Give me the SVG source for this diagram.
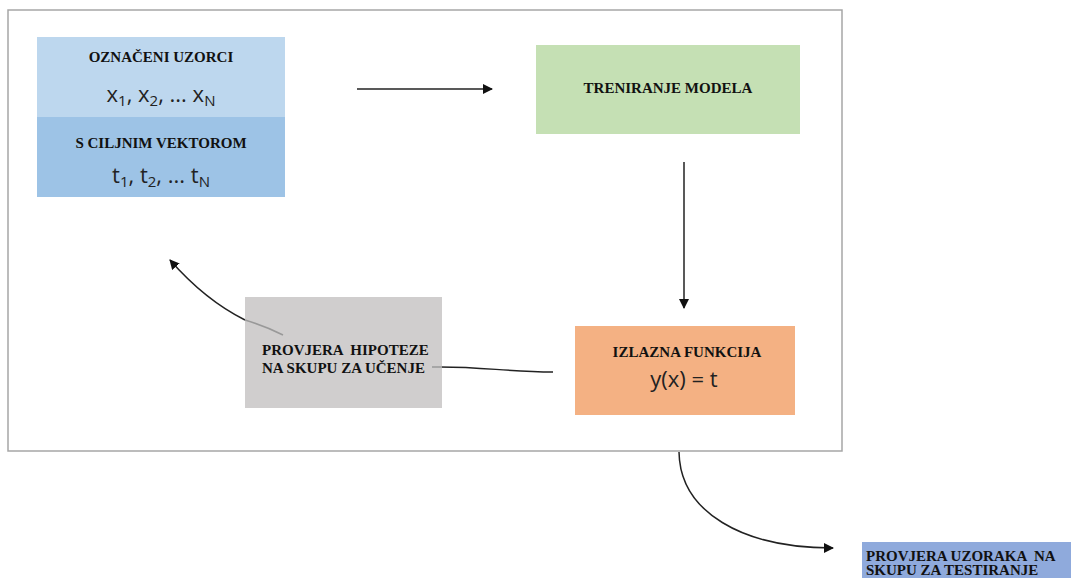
<svg xmlns="http://www.w3.org/2000/svg" width="1071" height="578" viewBox="0 0 1071 578">
<defs>
<marker id="ah" viewBox="0 0 10 10" refX="9" refY="5" markerWidth="10" markerHeight="10" markerUnits="userSpaceOnUse" orient="auto">
<path d="M0,0 L10,5 L0,10 z" fill="#111"/>
</marker>
</defs>
<style>
.hd{font-family:"Liberation Serif","Times New Roman",serif;font-weight:bold;font-size:15px;fill:#111;}
.mt{font-family:"Open Sans","Noto Sans",sans-serif;font-size:22px;fill:#222;}
.sub{font-size:15px;}
.cn{fill:none;stroke:#222;stroke-width:1.5;}
</style>
<rect width="1071" height="578" fill="#fff"/>
<g id="frame"><rect x="8" y="10" width="834" height="441" fill="#fff" stroke="#a6a6a6" stroke-width="1.5"/></g>
<g id="connectors">
<line class="cn" x1="357" y1="89" x2="492" y2="89" marker-end="url(#ah)"/>
<line class="cn" x1="684" y1="162" x2="684" y2="308" marker-end="url(#ah)"/>
<path class="cn" d="M553,372 C505,372 480,366 432,367"/>
<path class="cn" d="M245,320 Q205,300 170,260" marker-end="url(#ah)"/>
<path class="cn" d="M679,452 C680,512 742,548 833,548" marker-end="url(#ah)"/>
</g>
<g id="node-samples">
<rect x="37" y="37" width="248" height="80" fill="#bdd7ee"/>
<rect x="37" y="117" width="248" height="80" fill="#9dc3e6"/>
<text class="hd" x="161" y="62" text-anchor="middle">OZNAČENI UZORCI</text>
<text class="mt" x="161" y="102" text-anchor="middle">x<tspan class="sub" dy="4">1</tspan><tspan dy="-4">, x</tspan><tspan class="sub" dy="4">2</tspan><tspan dy="-4">, ... x</tspan><tspan class="sub" dy="4">N</tspan></text>
<text class="hd" x="161" y="148" text-anchor="middle">S CILJNIM VEKTOROM</text>
<text class="mt" x="161" y="183" text-anchor="middle">t<tspan class="sub" dy="4">1</tspan><tspan dy="-4">, t</tspan><tspan class="sub" dy="4">2</tspan><tspan dy="-4">, ... t</tspan><tspan class="sub" dy="4">N</tspan></text>
</g>
<g id="node-train">
<rect x="536" y="45" width="264" height="89" fill="#c5e0b4"/>
<text class="hd" x="668" y="93" text-anchor="middle">TRENIRANJE MODELA</text>
</g>
<g id="node-output">
<rect x="575" y="326" width="220" height="89" fill="#f4b183"/>
<text class="hd" x="687" y="357" text-anchor="middle">IZLAZNA FUNKCIJA</text>
<text class="mt" x="684" y="387" text-anchor="middle">y(x) = t</text>
</g>
<g id="node-hypothesis">
<rect x="245" y="297" width="197" height="111" fill="#d0cece"/>
<path d="M283,335 Q265,326 245,320" fill="none" stroke="#999" stroke-width="1.5"/>
<path d="M432,367 L442,367" fill="none" stroke="#999" stroke-width="1.5"/>
<text class="hd" x="262" y="355" xml:space="preserve">PROVJERA  HIPOTEZE</text>
<text class="hd" x="262" y="373">NA SKUPU ZA UČENJE</text>
</g>
<g id="node-test">
<rect x="862" y="542" width="209" height="36" fill="#8faadc"/>
<text class="hd" x="866" y="561" xml:space="preserve">PROVJERA UZORAKA  NA</text>
<text class="hd" x="866" y="575">SKUPU ZA TESTIRANJE</text>
</g>
</svg>
